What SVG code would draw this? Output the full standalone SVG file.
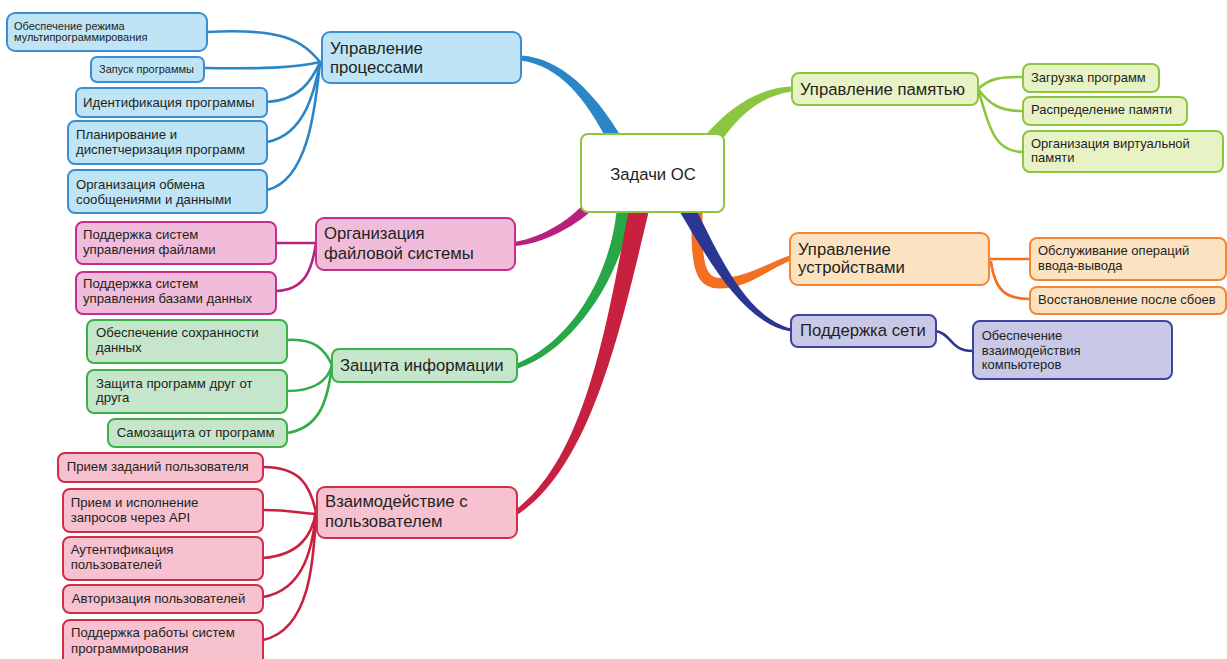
<svg xmlns="http://www.w3.org/2000/svg" width="1227" height="659" viewBox="0 0 1227 659">
<style>
text{font-family:"Liberation Sans",Arial,sans-serif;fill:#231f20}
.m{font-size:16.7px}
.c{font-size:13.2px}
.s{font-size:11px}
.r{font-size:13px}
rect{stroke-width:2}
.sub{fill:none;stroke-width:2.6;stroke-linecap:round}
.bl rect{fill:#bee4f6;stroke:#3b8fd0}
.pk rect{fill:#f0bcd9;stroke:#c42f8e}
.gr rect{fill:#c5e6cb;stroke:#3cb14a}
.rd rect{fill:#f7c1cf;stroke:#cf2e4a}
.lg rect{fill:#e8f3c5;stroke:#8cc63f}
.or rect{fill:#fde2c1;stroke:#f58634}
.nv rect{fill:#c9c9e7;stroke:#3c46a0}
</style>
<g id="connectors">
<path fill="#2a86c7" d="M621.1,136.6 C594.8,92.3 560.4,58 521.3,55.5 L520.7,60.5 C559.6,66 585.2,97.7 608.9,143.4 Z"/>
<path fill="#b81f7f" d="M590.9,196.3 C571.8,219.1 544.6,236.9 514.7,242 L515.3,246 C545.4,243.1 578.2,224.9 599.1,203.7 Z"/>
<path fill="#27a745" d="M617.5,199.5 C614.2,269.6 573.6,341.1 516.2,363.7 L517.9,368.4 C576.4,348.9 625.8,270.4 632.5,200.5 Z"/>
<path fill="#c8203f" d="M630.2,202.9 C607.7,318.4 587.1,455.9 515.6,510 L518.5,514 C592.9,464.1 622.3,321.6 649.8,207.1 Z"/>
<path fill="#8cc63f" d="M718.4,144.9 C739.9,113.8 760.4,96.3 792.2,91.5 L791.8,86.5 C759.6,87.7 730.1,106.2 705.6,135.1 Z"/>
<path fill="#f36f21" d="M691.5,205 C691.5,252 689,289 720,288.5 C746,288.5 766,271 790.5,260.5 L789.5,255.5 C764,265 744,278 720,278 C701,278 702.5,250 702.5,205 Z"/>
<path fill="#2b3592" d="M678,208.8 C709.9,262.8 744.2,323.6 790.7,331.5 L791.3,328.5 C745.8,316.4 720.1,257.2 692,201.2 Z"/>
<g class="sub" stroke="#2a86c7">
<path d="M207,32 C282,28 302,40 320,62"/>
<path d="M204,68 C260,69 295,68 320,62"/>
<path d="M267,102 C300,100 312,80 320,62"/>
<path d="M267,142 C305,135 315,90 320,62"/>
<path d="M267,190 C310,180 316,100 320,62"/>
</g>
<g class="sub" stroke="#b81f7f">
<path d="M276,243 L316,243"/>
<path d="M276,291 C305,290 312,270 316,243"/>
</g>
<g class="sub" stroke="#2fae4a">
<path d="M287,340 C315,338 325,350 332,365"/>
<path d="M287,391 C315,391 328,380 332,365"/>
<path d="M287,433 C320,428 328,400 332,365"/>
</g>
<g class="sub" stroke="#c8203f">
<path d="M263,467 C300,467 310,485 316,512"/>
<path d="M263,510 C290,510 300,513 316,514"/>
<path d="M263,558 C300,555 312,535 316,512"/>
<path d="M263,597 C305,590 313,545 316,512"/>
<path d="M263,640 C310,630 314,560 316,512"/>
</g>
<g class="sub" stroke="#8cc63f">
<path d="M978,89 C990,78 1000,77 1023,77"/>
<path d="M978,89 C990,105 1000,111 1023,111"/>
<path d="M978,89 C990,130 995,152 1023,152"/>
</g>
<g class="sub" stroke="#f36f21">
<path d="M989,259 L1030,259"/>
<path d="M991,262 C995,290 1005,299 1030,299"/>
</g>
<g class="sub" stroke="#2b3592">
<path d="M936,331 C952,334 950,351 973,351"/>
</g>
</g>
<g id="root"><rect x="581" y="134" width="143" height="78" rx="7" fill="#fff" stroke="#8cc63f" stroke-width="3"/><text class="m" x="653" y="180" text-anchor="middle">Задачи ОС</text></g>
<g class="bl">
<g id="n-proc"><rect x="322" y="32" width="199" height="51" rx="8"/><text class="m" x="330" y="53.5">Управление</text><text class="m" x="330" y="73">процессами</text></g>
<g id="n-proc1"><rect x="7" y="13" width="200" height="38" rx="8"/><text class="s" x="14" y="29.5">Обеспечение режима</text><text class="s" x="14" y="40.5">мультипрограммирования</text></g>
<g id="n-proc2"><rect x="91" y="57" width="113" height="25" rx="6"/><text class="s" x="99" y="72.5">Запуск программы</text></g>
<g id="n-proc3"><rect x="76" y="88" width="191" height="29" rx="6"/><text class="c" x="83" y="106.5">Идентификация программы</text></g>
<g id="n-proc4"><rect x="68" y="121" width="199" height="43" rx="7"/><text class="c" x="76" y="138.5">Планирование и</text><text class="c" x="76" y="153.5">диспетчеризация программ</text></g>
<g id="n-proc5"><rect x="68" y="170" width="199" height="43" rx="7"/><text class="c" x="76" y="188.5">Организация обмена</text><text class="c" x="76" y="203.5">сообщениями и данными</text></g>
</g>
<g class="pk">
<g id="n-fs"><rect x="316" y="218" width="199" height="52" rx="8"/><text class="m" x="324" y="238.5">Организация</text><text class="m" x="324" y="258.5">файловой системы</text></g>
<g id="n-fs1"><rect x="76" y="222" width="200" height="42" rx="7"/><text class="c" x="83" y="239.3">Поддержка систем</text><text class="c" x="83" y="254">управления файлами</text></g>
<g id="n-fs2"><rect x="76" y="272" width="200" height="42" rx="7"/><text class="c" x="83" y="288.3">Поддержка систем</text><text class="c" x="83" y="303.3">управления базами данных</text></g>
</g>
<g class="gr">
<g id="n-sec"><rect x="332" y="349" width="185" height="33" rx="7"/><text class="m" x="340" y="370.7">Защита информации</text></g>
<g id="n-sec1"><rect x="87" y="320" width="200" height="43" rx="7"/><text class="c" x="96" y="337.3">Обеспечение сохранности</text><text class="c" x="96" y="351.7">данных</text></g>
<g id="n-sec2"><rect x="87" y="370" width="200" height="43" rx="7"/><text class="c" x="96" y="387.7">Защита программ друг от</text><text class="c" x="96" y="402.3">друга</text></g>
<g id="n-sec3"><rect x="108" y="419" width="179" height="28" rx="7"/><text class="c" x="116.7" y="436.7">Самозащита от программ</text></g>
</g>
<g class="rd">
<g id="n-usr"><rect x="317" y="487" width="200" height="51" rx="8"/><text class="m" x="325" y="507.3">Взаимодействие с</text><text class="m" x="325" y="526.7">пользователем</text></g>
<g id="n-usr1"><rect x="58" y="453" width="205" height="29" rx="7"/><text class="c" x="66.7" y="470.7">Прием заданий пользователя</text></g>
<g id="n-usr2"><rect x="63" y="489" width="200" height="43" rx="7"/><text class="c" x="70.7" y="506.7">Прием и исполнение</text><text class="c" x="70.7" y="521.7">запросов через API</text></g>
<g id="n-usr3"><rect x="63" y="537" width="200" height="43" rx="7"/><text class="c" x="70.7" y="554.3">Аутентификация</text><text class="c" x="70.7" y="569.3">пользователей</text></g>
<g id="n-usr4"><rect x="63" y="585" width="200" height="28" rx="7"/><text class="c" x="71.7" y="602.7">Авторизация пользователей</text></g>
<g id="n-usr5"><rect x="63" y="620" width="200" height="45" rx="7"/><text class="c" x="71" y="637.3">Поддержка работы систем</text><text class="c" x="71" y="652.7">программирования</text></g>
</g>
<g class="lg">
<g id="n-mem"><rect x="792" y="73" width="186" height="32" rx="7"/><text class="m" x="800" y="95">Управление памятью</text></g>
<g id="n-mem1"><rect x="1023" y="64" width="136" height="28" rx="7"/><text class="r" x="1031" y="81.7">Загрузка программ</text></g>
<g id="n-mem2"><rect x="1023" y="97" width="164" height="28" rx="7"/><text class="r" x="1031" y="114.3">Распределение памяти</text></g>
<g id="n-mem3"><rect x="1023" y="131" width="200" height="41" rx="7"/><text class="r" x="1031" y="148.3">Организация виртуальной</text><text class="r" x="1031" y="161.7">памяти</text></g>
</g>
<g class="or">
<g id="n-dev"><rect x="790" y="233" width="199" height="52" rx="8"/><text class="m" x="798" y="255">Управление</text><text class="m" x="798" y="273.3">устройствами</text></g>
<g id="n-dev1"><rect x="1030" y="238" width="196" height="42" rx="7"/><text class="r" x="1038" y="255">Обслуживание операций</text><text class="r" x="1038" y="270">ввода-вывода</text></g>
<g id="n-dev2"><rect x="1030" y="287" width="196" height="27" rx="7"/><text class="r" x="1038" y="304">Восстановление после сбоев</text></g>
</g>
<g class="nv">
<g id="n-net"><rect x="791" y="315" width="145" height="32" rx="7"/><text class="m" x="800" y="336">Поддержка сети</text></g>
<g id="n-net1"><rect x="973" y="321" width="199" height="58" rx="7"/><text class="r" x="981.7" y="340">Обеспечение</text><text class="r" x="981.7" y="355">взаимодействия</text><text class="r" x="981.7" y="369">компьютеров</text></g>
</g>
</svg>
